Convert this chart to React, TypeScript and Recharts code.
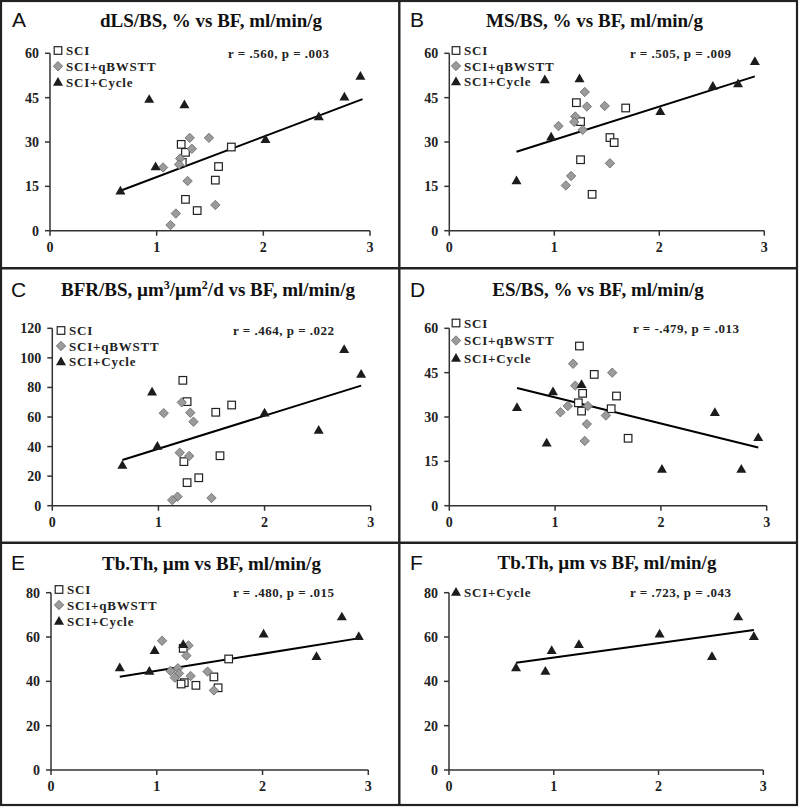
import React from "react"
import { ScatterChart, Scatter, XAxis, YAxis, ReferenceLine } from "recharts"

type Pt = { x: number; y: number }

// A: dLS/BS, %
const aSci: Pt[] = [
    { x: 1.23, y: 29.2 }, { x: 1.27, y: 26.5 }, { x: 1.24, y: 23.1 }, { x: 1.7, y: 28.3 },
    { x: 1.58, y: 21.7 }, { x: 1.55, y: 17.1 }, { x: 1.27, y: 10.6 }, { x: 1.38, y: 6.8 },
]
const aQb: Pt[] = [
    { x: 1.31, y: 31.4 }, { x: 1.49, y: 31.4 }, { x: 1.33, y: 27.7 }, { x: 1.22, y: 24.4 },
    { x: 1.21, y: 22.4 }, { x: 1.06, y: 21.4 }, { x: 1.29, y: 16.8 }, { x: 1.55, y: 8.7 },
    { x: 1.18, y: 5.8 }, { x: 1.13, y: 1.9 },
]
const aCyc: Pt[] = [
    { x: 0.66, y: 13.5 }, { x: 0.93, y: 44.5 }, { x: 0.99, y: 21.7 }, { x: 1.26, y: 42.7 },
    { x: 2.02, y: 30.9 }, { x: 2.52, y: 38.6 }, { x: 2.76, y: 45.3 }, { x: 2.91, y: 52.3 },
]
const aTrend: Pt[] = [{ x: 0.66, y: 13.5 }, { x: 2.93, y: 44.5 }]

// B: MS/BS, %
const bSci: Pt[] = [
    { x: 1.21, y: 43.3 }, { x: 1.25, y: 36.9 }, { x: 1.68, y: 41.5 }, { x: 1.53, y: 31.5 },
    { x: 1.57, y: 29.8 }, { x: 1.25, y: 24.0 }, { x: 1.36, y: 12.3 },
]
const bQb: Pt[] = [
    { x: 1.29, y: 46.9 }, { x: 1.31, y: 42.0 }, { x: 1.48, y: 42.2 }, { x: 1.2, y: 38.6 },
    { x: 1.19, y: 36.8 }, { x: 1.04, y: 35.4 }, { x: 1.27, y: 34.1 }, { x: 1.53, y: 22.8 },
    { x: 1.16, y: 18.5 }, { x: 1.11, y: 15.3 },
]
const bCyc: Pt[] = [
    { x: 0.64, y: 17.0 }, { x: 0.91, y: 51.1 }, { x: 0.97, y: 31.8 }, { x: 1.24, y: 51.5 },
    { x: 2.01, y: 40.4 }, { x: 2.51, y: 48.9 }, { x: 2.75, y: 49.8 }, { x: 2.91, y: 57.3 },
]
const bTrend: Pt[] = [{ x: 0.64, y: 26.7 }, { x: 2.91, y: 52.2 }]

// C: BFR/BS
const cSci: Pt[] = [
    { x: 1.23, y: 84.8 }, { x: 1.27, y: 70.4 }, { x: 1.54, y: 63.2 }, { x: 1.69, y: 68.1 },
    { x: 1.58, y: 33.8 }, { x: 1.24, y: 29.8 }, { x: 1.27, y: 15.6 }, { x: 1.38, y: 18.9 },
]
const cQb: Pt[] = [
    { x: 1.22, y: 69.9 }, { x: 1.05, y: 62.6 }, { x: 1.3, y: 62.9 }, { x: 1.33, y: 56.8 },
    { x: 1.2, y: 35.9 }, { x: 1.29, y: 33.6 }, { x: 1.18, y: 6.1 }, { x: 1.13, y: 3.8 },
    { x: 1.5, y: 5.2 },
]
const cCyc: Pt[] = [
    { x: 0.66, y: 27.5 }, { x: 0.94, y: 77.1 }, { x: 0.99, y: 40.4 }, { x: 2.0, y: 62.9 },
    { x: 2.51, y: 51.2 }, { x: 2.75, y: 105.8 }, { x: 2.91, y: 89.1 },
]
const cTrend: Pt[] = [{ x: 0.66, y: 30.9 }, { x: 2.91, y: 81.2 }]

// D: ES/BS, %
const dSci: Pt[] = [
    { x: 1.23, y: 54.0 }, { x: 1.37, y: 44.4 }, { x: 1.26, y: 38.0 }, { x: 1.58, y: 37.1 },
    { x: 1.22, y: 34.8 }, { x: 1.53, y: 32.8 }, { x: 1.25, y: 32.0 }, { x: 1.69, y: 22.8 },
]
const dQb: Pt[] = [
    { x: 1.17, y: 48.0 }, { x: 1.54, y: 45.0 }, { x: 1.19, y: 40.6 }, { x: 1.12, y: 33.7 },
    { x: 1.31, y: 33.7 }, { x: 1.05, y: 31.6 }, { x: 1.48, y: 30.5 }, { x: 1.3, y: 27.6 },
    { x: 1.28, y: 21.9 },
]
const dCyc: Pt[] = [
    { x: 0.64, y: 33.3 }, { x: 0.92, y: 21.3 }, { x: 0.98, y: 38.6 }, { x: 1.25, y: 41.1 },
    { x: 2.01, y: 12.4 }, { x: 2.51, y: 31.6 }, { x: 2.76, y: 12.4 }, { x: 2.92, y: 23.1 },
]
const dTrend: Pt[] = [{ x: 0.64, y: 39.8 }, { x: 2.92, y: 19.7 }]

// E: Tb.Th, all groups
const eSci: Pt[] = [
    { x: 1.25, y: 54.9 }, { x: 1.68, y: 50.1 }, { x: 1.54, y: 42.0 }, { x: 1.26, y: 39.4 },
    { x: 1.23, y: 38.8 }, { x: 1.37, y: 38.2 }, { x: 1.58, y: 37.1 },
]
const eQb: Pt[] = [
    { x: 1.05, y: 58.3 }, { x: 1.3, y: 56.2 }, { x: 1.28, y: 51.6 }, { x: 1.2, y: 45.9 },
    { x: 1.13, y: 44.7 }, { x: 1.21, y: 43.6 }, { x: 1.48, y: 44.4 }, { x: 1.32, y: 42.4 },
    { x: 1.17, y: 41.7 }, { x: 1.54, y: 35.9 },
]
const eCyc: Pt[] = [
    { x: 0.65, y: 46.2 }, { x: 0.93, y: 44.7 }, { x: 0.98, y: 54.0 }, { x: 1.25, y: 56.7 },
    { x: 2.01, y: 61.5 }, { x: 2.51, y: 51.3 }, { x: 2.75, y: 69.2 }, { x: 2.91, y: 60.3 },
]
const eTrend: Pt[] = [{ x: 0.65, y: 42.1 }, { x: 2.92, y: 59.5 }]

// F: Tb.Th, cycle only
const fCyc: Pt[] = [
    { x: 0.64, y: 46.2 }, { x: 0.92, y: 44.7 }, { x: 0.98, y: 54.0 }, { x: 1.24, y: 56.7 },
    { x: 2.01, y: 61.5 }, { x: 2.51, y: 51.3 }, { x: 2.76, y: 69.2 }, { x: 2.91, y: 60.3 },
]
const fTrend: Pt[] = [{ x: 0.64, y: 48.4 }, { x: 2.91, y: 63.2 }]

const xTicks = [0, 1, 2, 3]
const ticks60 = [0, 15, 30, 45, 60]
const ticks120 = [0, 20, 40, 60, 80, 100, 120]
const ticks80 = [0, 20, 40, 60, 80]

const SERIF = '"Liberation Serif", "Times New Roman", serif'
const SANS = '"Liberation Sans", Arial, sans-serif'
const INK = "#222"

const SquareDot = (p: any) => (
    <rect x={p.cx - 3.8} y={p.cy - 3.8} width={7.6} height={7.6} fill="#fff" stroke="#222" strokeWidth={1.2} />
)
const DiamondDot = (p: any) => (
    <path
        d={`M${p.cx},${p.cy - 4.7}L${p.cx + 4.7},${p.cy}L${p.cx},${p.cy + 4.7}L${p.cx - 4.7},${p.cy}Z`}
        fill="#9b9b9b"
        stroke="#666"
        strokeWidth={0.8}
    />
)
const TriangleDot = (p: any) => (
    <path d={`M${p.cx},${p.cy - 5}L${p.cx + 5},${p.cy + 3.7}L${p.cx - 5},${p.cy + 3.7}Z`} fill="#1c1c1c" />
)

interface PanelProps {
    box: [number, number, number, number] // left, top, width, height
    plot: [number, number, number, number] // left, right, top, bottom (page px)
    yMax: number
    yTicks: number[]
    sci?: Pt[]
    qb?: Pt[]
    cyc: Pt[]
    trend: Pt[]
}

const tickStyle = { fontFamily: SERIF, fontWeight: "bold", fontSize: 14, fill: INK }
const axisStyle = { stroke: "#333", strokeWidth: 1.5 }

function Panel({ box, plot, yMax, yTicks, sci, qb, cyc, trend }: PanelProps) {
    const [bx, by, bw, bh] = box
    const [L, R, T, B] = plot
    const margin = { top: T - by, right: bx + bw - R, bottom: by + bh - B - 30, left: L - bx - 40 }
    return (
        <div style={{ position: "absolute", left: bx, top: by }}>
            <ScatterChart width={bw} height={bh} margin={margin}>
                <XAxis
                    type="number"
                    dataKey="x"
                    domain={[0, 3]}
                    ticks={xTicks}
                    height={30}
                    tickSize={5}
                    tickMargin={6}
                    axisLine={axisStyle}
                    tickLine={axisStyle}
                    tick={tickStyle}
                    allowDataOverflow
                />
                <YAxis
                    type="number"
                    dataKey="y"
                    domain={[0, yMax]}
                    ticks={yTicks}
                    width={40}
                    tickSize={5}
                    tickMargin={6}
                    axisLine={axisStyle}
                    tickLine={axisStyle}
                    tick={tickStyle}
                    allowDataOverflow
                />
                {sci && <Scatter data={sci} shape={SquareDot} isAnimationActive={false} />}
                {qb && <Scatter data={qb} shape={DiamondDot} isAnimationActive={false} />}
                <Scatter data={cyc} shape={TriangleDot} isAnimationActive={false} />
                <ReferenceLine
                    segment={[trend[0], trend[1]]}
                    stroke="#000"
                    strokeWidth={2}
                    ifOverflow="visible"
                />
            </ScatterChart>
        </div>
    )
}

interface LabelSet {
    letter: [string, number, number]
    title: [string, number, number]
    stat: [string, number, number]
    legendX: number
    legendY: number[]
    groups: ("sci" | "qb" | "cyc")[]
}

const legendText = { sci: "SCI", qb: "SCI+qBWSTT", cyc: "SCI+Cycle" }

const labels: LabelSet[] = [
    { letter: ["A", 12, 27], title: ["dLS/BS, % vs BF, ml/min/g", 211, 27], stat: ["r = .560, p = .003", 228, 57.5], legendX: 58, legendY: [55, 70.7, 86.5], groups: ["sci", "qb", "cyc"] },
    { letter: ["B", 410, 27], title: ["MS/BS, % vs BF, ml/min/g", 594.5, 27], stat: ["r = .505, p = .009", 630, 57.5], legendX: 456, legendY: [55, 70.5, 86], groups: ["sci", "qb", "cyc"] },
    { letter: ["C", 11, 296.5], title: ["", 208, 296], stat: ["r = .464, p = .022", 233, 335], legendX: 61, legendY: [335, 350.5, 366], groups: ["sci", "qb", "cyc"] },
    { letter: ["D", 410, 296.5], title: ["ES/BS, % vs BF, ml/min/g", 598, 296], stat: ["r = -.479, p = .013", 633, 332.5], legendX: 456, legendY: [327.5, 345, 362.5], groups: ["sci", "qb", "cyc"] },
    { letter: ["E", 11, 569.5], title: ["Tb.Th, µm vs BF, ml/min/g", 211.5, 570], stat: ["r = .480, p = .015", 233, 597], legendX: 59, legendY: [594, 609.5, 625.5], groups: ["sci", "qb", "cyc"] },
    { letter: ["F", 410, 569.5], title: ["Tb.Th, µm vs BF, ml/min/g", 607, 569], stat: ["r = .723, p = .043", 630, 597], legendX: 456, legendY: [596.5], groups: ["cyc"] },
]

function Overlay() {
    const dots = { sci: SquareDot, qb: DiamondDot, cyc: TriangleDot }
    return (
        <svg width={800} height={809} style={{ position: "absolute", left: 0, top: 0, pointerEvents: "none" }}>
            {/* frame */}
            <rect x={1} y={1} width={796} height={804} fill="none" stroke={INK} strokeWidth={2.2} />
            <line x1={399.3} y1={0} x2={399.3} y2={806} stroke={INK} strokeWidth={2.4} />
            <line x1={0} y1={268.3} x2={798} y2={268.3} stroke={INK} strokeWidth={2.4} />
            <line x1={0} y1={542.7} x2={798} y2={542.7} stroke={INK} strokeWidth={2.4} />
            {labels.map((l, i) => (
                <g key={i}>
                    <text x={l.letter[1]} y={l.letter[2]} fontFamily={SANS} fontSize={21} fill="#111">
                        {l.letter[0]}
                    </text>
                    {i === 2 ? (
                        <text x={l.title[1]} y={l.title[2]} textAnchor="middle" fontFamily={SERIF} fontWeight="bold" fontSize={19} fill="#111">
                            BFR/BS, µm<tspan fontSize={12} dy={-7}>3</tspan>
                            <tspan dy={7}>/µm</tspan>
                            <tspan fontSize={12} dy={-7}>2</tspan>
                            <tspan dy={7}>/d vs BF, ml/min/g</tspan>
                        </text>
                    ) : (
                        <text x={l.title[1]} y={l.title[2]} textAnchor="middle" fontFamily={SERIF} fontWeight="bold" fontSize={19} fill="#111">
                            {l.title[0]}
                        </text>
                    )}
                    <text x={l.stat[1]} y={l.stat[2]} fontFamily={SERIF} fontWeight="bold" fontSize={13} letterSpacing={0.5} fill={INK}>
                        {l.stat[0]}
                    </text>
                    {l.groups.map((g, j) => {
                        const Dot = dots[g]
                        return (
                            <g key={g}>
                                <Dot cx={l.legendX} cy={l.legendY[j] - 4.5} />
                                <text x={l.legendX + 8} y={l.legendY[j]} fontFamily={SERIF} fontWeight="bold" fontSize={13} letterSpacing={0.8} fill={INK}>
                                    {legendText[g]}
                                </text>
                            </g>
                        )
                    })}
                </g>
            ))}
        </svg>
    )
}

export default function App() {
    return (
        <div style={{ position: "absolute", left: 0, top: 0, width: 800, height: 809, background: "#fff" }}>
            <Panel box={[2, 2, 396, 265]} plot={[50, 370, 53.3, 230.7]} yMax={60} yTicks={ticks60} sci={aSci} qb={aQb} cyc={aCyc} trend={aTrend} />
            <Panel box={[401, 2, 395, 265]} plot={[449.3, 764.3, 53.3, 230.7]} yMax={60} yTicks={ticks60} sci={bSci} qb={bQb} cyc={bCyc} trend={bTrend} />
            <Panel box={[2, 270, 396, 271]} plot={[52.3, 370.7, 328.3, 505.7]} yMax={120} yTicks={ticks120} sci={cSci} qb={cQb} cyc={cCyc} trend={cTrend} />
            <Panel box={[401, 270, 395, 271]} plot={[449.3, 766.7, 328.3, 505.7]} yMax={60} yTicks={ticks60} sci={dSci} qb={dQb} cyc={dCyc} trend={dTrend} />
            <Panel box={[2, 544, 396, 259]} plot={[51, 368.3, 592.7, 770]} yMax={80} yTicks={ticks80} sci={eSci} qb={eQb} cyc={eCyc} trend={eTrend} />
            <Panel box={[401, 544, 395, 259]} plot={[449, 763.3, 592.7, 770]} yMax={80} yTicks={ticks80} cyc={fCyc} trend={fTrend} />
            <Overlay />
        </div>
    )
}
